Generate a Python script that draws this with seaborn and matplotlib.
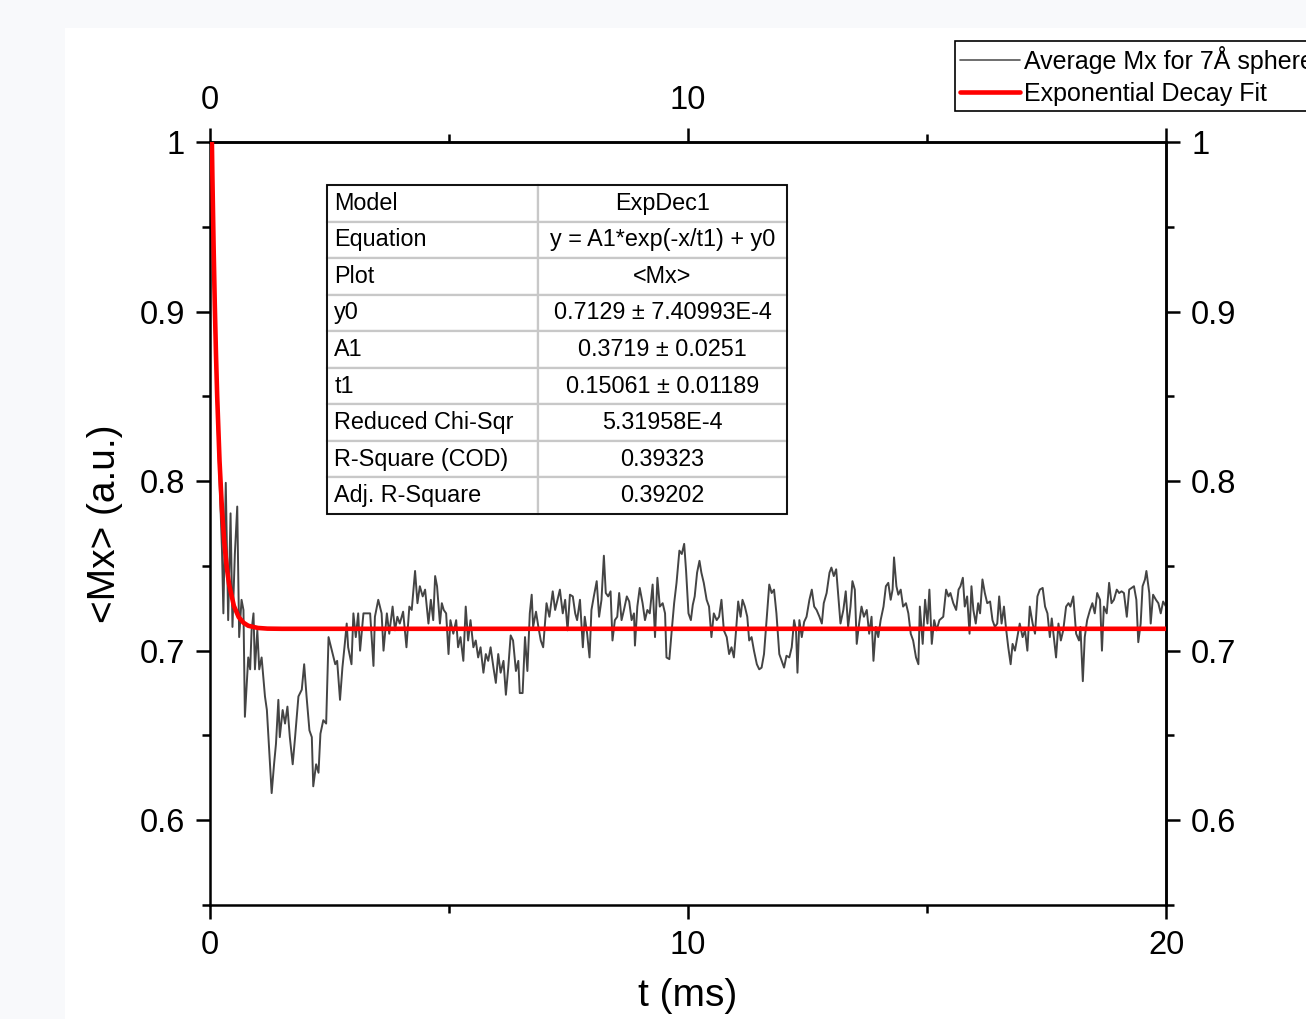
import matplotlib
matplotlib.use("Agg")
import matplotlib.pyplot as plt
import pandas as pd
import seaborn as sns
from matplotlib.lines import Line2D
from matplotlib.patches import Rectangle
from matplotlib.table import Table
from matplotlib.ticker import MultipleLocator, FuncFormatter

# ---------------- data ----------------
t_start = [0.00, 0.05, 0.10, 0.15, 0.20, 0.25]
mx_start = [1.000, 0.950, 0.890, 0.840, 0.800, 0.760]

t_dip = [0.28, 0.33, 0.38, 0.43, 0.47, 0.52, 0.57, 0.61, 0.66, 0.70,
         0.73, 0.80, 0.84, 0.87, 0.91, 0.94, 0.99, 1.03, 1.08, 1.15,
         1.19, 1.26, 1.29, 1.34, 1.38, 1.43, 1.46, 1.52, 1.57, 1.62,
         1.67, 1.73, 1.78, 1.85, 1.92, 1.97, 2.02, 2.08, 2.13, 2.16,
         2.22, 2.27, 2.31, 2.37, 2.43, 2.48, 2.55, 2.62, 2.66, 2.72,
         2.77, 2.82, 2.86, 2.89, 2.96, 3.00, 3.05, 3.10, 3.14, 3.21,
         3.28, 3.35]
mx_dip = [0.722, 0.799, 0.718, 0.781, 0.714, 0.757, 0.785, 0.708, 0.730, 0.724,
          0.661, 0.696, 0.689, 0.712, 0.722, 0.689, 0.712, 0.689, 0.696, 0.673,
          0.665, 0.630, 0.616, 0.633, 0.645, 0.671, 0.649, 0.665, 0.657, 0.667,
          0.649, 0.633, 0.649, 0.673, 0.677, 0.692, 0.673, 0.653, 0.649, 0.620,
          0.633, 0.628, 0.651, 0.659, 0.657, 0.708, 0.700, 0.692, 0.694, 0.671,
          0.690, 0.704, 0.716, 0.702, 0.692, 0.722, 0.708, 0.722, 0.700, 0.722,
          0.722, 0.722]

t_mid1 = [3.42, 3.45, 3.52, 3.59, 3.63, 3.70, 3.75, 3.82, 3.87, 3.92,
          3.97, 4.04, 4.11, 4.17, 4.22, 4.29, 4.34, 4.39, 4.45, 4.50,
          4.57, 4.62, 4.67, 4.71, 4.75, 4.81, 4.85, 4.89, 4.94, 4.99,
          5.03, 5.09, 5.15, 5.19, 5.24, 5.30, 5.35, 5.40, 5.45, 5.51,
          5.56, 5.61, 5.66, 5.72, 5.77, 5.82, 5.87, 5.93, 5.98, 6.03,
          6.08, 6.14, 6.19, 6.24, 6.29, 6.34, 6.40, 6.45, 6.48, 6.54,
          6.59, 6.64, 6.69, 6.73, 6.76, 6.82, 6.87, 6.92, 6.97]
mx_mid1 = [0.691, 0.720, 0.730, 0.722, 0.700, 0.722, 0.710, 0.726, 0.712, 0.720,
           0.716, 0.723, 0.702, 0.726, 0.724, 0.747, 0.728, 0.738, 0.732, 0.736,
           0.716, 0.730, 0.718, 0.744, 0.738, 0.716, 0.728, 0.724, 0.722, 0.698,
           0.718, 0.710, 0.718, 0.702, 0.708, 0.694, 0.726, 0.706, 0.718, 0.702,
           0.706, 0.696, 0.702, 0.687, 0.698, 0.694, 0.702, 0.690, 0.681, 0.698,
           0.687, 0.694, 0.674, 0.690, 0.709, 0.706, 0.688, 0.694, 0.675, 0.675,
           0.708, 0.688, 0.722, 0.733, 0.714, 0.723, 0.714, 0.706, 0.702]

t_mid2 = [7.04, 7.10, 7.17, 7.22, 7.27, 7.32, 7.38, 7.43, 7.48, 7.53,
          7.59, 7.64, 7.68, 7.74, 7.80, 7.84, 7.89, 7.94, 7.98, 8.03,
          8.09, 8.14, 8.19, 8.24, 8.28, 8.33, 8.38, 8.42, 8.47, 8.52,
          8.56, 8.61, 8.66, 8.72, 8.77, 8.82, 8.87, 8.89, 8.94, 8.99,
          9.05, 9.10, 9.15, 9.20, 9.26, 9.31, 9.36, 9.41, 9.47, 9.52,
          9.55, 9.61, 9.66, 9.71, 9.76, 9.82, 9.87, 9.92, 9.96, 10.01,
          10.06, 10.10, 10.14, 10.19, 10.24, 10.28, 10.33, 10.39, 10.44, 10.49,
          10.54, 10.60, 10.65, 10.70, 10.75, 10.81, 10.86, 10.91, 10.96]
mx_mid2 = [0.728, 0.720, 0.735, 0.724, 0.730, 0.736, 0.722, 0.730, 0.712, 0.733,
           0.732, 0.722, 0.718, 0.730, 0.702, 0.720, 0.710, 0.696, 0.724, 0.732,
           0.741, 0.720, 0.730, 0.756, 0.734, 0.732, 0.735, 0.706, 0.718, 0.720,
           0.734, 0.718, 0.724, 0.732, 0.729, 0.718, 0.722, 0.703, 0.726, 0.737,
           0.728, 0.718, 0.724, 0.722, 0.739, 0.708, 0.743, 0.726, 0.728, 0.722,
           0.696, 0.695, 0.712, 0.728, 0.740, 0.759, 0.757, 0.763, 0.747, 0.722,
           0.718, 0.727, 0.732, 0.746, 0.753, 0.746, 0.740, 0.730, 0.726, 0.708,
           0.722, 0.718, 0.720, 0.730, 0.712, 0.708, 0.698, 0.702, 0.696]

t_mid3 = [11.00, 11.05, 11.10, 11.14, 11.19, 11.24, 11.28, 11.33, 11.38, 11.44,
          11.49, 11.54, 11.59, 11.65, 11.70, 11.75, 11.80, 11.85, 11.91, 11.96,
          12.01, 12.06, 12.12, 12.17, 12.22, 12.26, 12.29, 12.33, 12.38, 12.43,
          12.48, 12.54, 12.59, 12.64, 12.69, 12.75, 12.80, 12.84, 12.90, 12.96,
          13.00, 13.05, 13.10, 13.14, 13.19, 13.25, 13.30, 13.35, 13.40, 13.44,
          13.49, 13.53, 13.58, 13.63, 13.68, 13.74, 13.79, 13.84, 13.88, 13.93,
          13.98, 14.03, 14.09, 14.14, 14.19, 14.24, 14.28, 14.31, 14.36, 14.40,
          14.45, 14.50, 14.56, 14.61, 14.66, 14.71, 14.77, 14.82, 14.85, 14.91,
          14.96, 15.01, 15.05, 15.10, 15.15, 15.20, 15.26]
mx_mid3 = [0.710, 0.729, 0.720, 0.730, 0.726, 0.720, 0.706, 0.708, 0.700, 0.692,
           0.689, 0.690, 0.698, 0.720, 0.739, 0.734, 0.736, 0.722, 0.698, 0.694,
           0.690, 0.697, 0.696, 0.702, 0.718, 0.712, 0.687, 0.718, 0.708, 0.717,
           0.720, 0.730, 0.736, 0.726, 0.724, 0.720, 0.716, 0.728, 0.734, 0.746,
           0.749, 0.744, 0.748, 0.734, 0.716, 0.724, 0.735, 0.714, 0.726, 0.741,
           0.736, 0.704, 0.716, 0.726, 0.720, 0.724, 0.710, 0.720, 0.694, 0.714,
           0.708, 0.718, 0.726, 0.738, 0.740, 0.730, 0.736, 0.755, 0.738, 0.733,
           0.736, 0.726, 0.728, 0.722, 0.710, 0.706, 0.696, 0.692, 0.726, 0.704,
           0.730, 0.716, 0.736, 0.704, 0.718, 0.712, 0.718]

t_end = [15.34, 15.40, 15.45, 15.49, 15.55, 15.61, 15.66, 15.70, 15.75, 15.79,
         15.84, 15.89, 15.93, 15.97, 16.02, 16.07, 16.11, 16.16, 16.21, 16.26,
         16.32, 16.37, 16.42, 16.47, 16.51, 16.56, 16.61, 16.65, 16.70, 16.75,
         16.79, 16.84, 16.89, 16.94, 17.00, 17.05, 17.10, 17.15, 17.21, 17.26,
         17.31, 17.36, 17.42, 17.47, 17.52, 17.57, 17.61, 17.66, 17.70, 17.75,
         17.80, 17.85, 17.91, 17.96, 18.00, 18.06, 18.12, 18.18, 18.21, 18.26,
         18.30, 18.35, 18.41, 18.46, 18.51, 18.56, 18.62, 18.66, 18.70, 18.76,
         18.81, 18.86, 18.91, 18.97, 19.02, 19.07, 19.12, 19.18, 19.23, 19.28,
         19.33, 19.38, 19.42, 19.47, 19.51, 19.56, 19.59, 19.65, 19.68, 19.73,
         19.79, 19.84, 19.89, 19.94, 20.00]
mx_end = [0.720, 0.736, 0.732, 0.734, 0.728, 0.724, 0.736, 0.738, 0.743, 0.726,
          0.732, 0.710, 0.738, 0.724, 0.716, 0.728, 0.722, 0.742, 0.734, 0.728,
          0.729, 0.718, 0.714, 0.716, 0.732, 0.716, 0.726, 0.714, 0.702, 0.692,
          0.704, 0.700, 0.708, 0.716, 0.708, 0.712, 0.700, 0.726, 0.716, 0.710,
          0.732, 0.736, 0.737, 0.726, 0.722, 0.708, 0.719, 0.706, 0.696, 0.716,
          0.706, 0.712, 0.726, 0.728, 0.726, 0.732, 0.710, 0.706, 0.714, 0.682,
          0.708, 0.718, 0.724, 0.728, 0.722, 0.734, 0.730, 0.700, 0.726, 0.722,
          0.740, 0.728, 0.730, 0.736, 0.734, 0.735, 0.734, 0.720, 0.736, 0.737,
          0.738, 0.730, 0.705, 0.716, 0.738, 0.742, 0.747, 0.734, 0.716, 0.733,
          0.730, 0.728, 0.722, 0.729, 0.726]

# Exponential decay fit (values of the fitted curve)
t_fit = [0.0, 0.025, 0.05, 0.075, 0.10, 0.125, 0.15, 0.20, 0.25, 0.30,
         0.35, 0.40, 0.50, 0.60, 0.70, 0.80, 1.00, 1.20, 1.50, 20.0]
mx_fit = [1.0848, 1.0280, 0.9797, 0.9389, 0.9044, 0.8750, 0.8503, 0.8115, 0.7836, 0.7636,
          0.7493, 0.7390, 0.7264, 0.7198, 0.7165, 0.7147, 0.7134, 0.7130, 0.7129, 0.7129]

table_rows = ["Model", "Equation", "Plot", "y0", "A1", "t1",
              "Reduced Chi-Sqr", "R-Square (COD)", "Adj. R-Square"]
table_vals = ["ExpDec1", "y = A1*exp(-x/t1) + y0", "<Mx>",
              "0.7129 \u00b1 7.40993E-4", "0.3719 \u00b1 0.0251",
              "0.15061 \u00b1 0.01189", "5.31958E-4", "0.39323", "0.39202"]

legend_labels = ["Average Mx for 7\u00c5 sphere", "Exponential Decay Fit"]

# ---------------- styling ----------------
sns.set_theme(style="ticks")
plt.rcParams["font.family"] = ["Liberation Sans", "DejaVu Sans"]
plt.rcParams["axes.edgecolor"] = "black"
plt.rcParams["axes.labelcolor"] = "black"
plt.rcParams["xtick.color"] = "black"
plt.rcParams["ytick.color"] = "black"
plt.rcParams["text.color"] = "black"
plt.rcParams["axes.linewidth"] = 1.8

W, H = 1306, 1019
fig = plt.figure(figsize=(W / 100, H / 100), dpi=100, facecolor="#f8f9fb")
fig.patches.append(Rectangle((65 / W, 0), 1, 1 - 28 / H, transform=fig.transFigure,
                             facecolor="white", edgecolor="none", zorder=-5))

ax = fig.add_axes([210 / W, 1 - 905 / H, (1166 - 210) / W, (905 - 142) / H])
ax.set_facecolor("white")

t_avg = t_start + t_dip + t_mid1 + t_mid2 + t_mid3 + t_end
mx_avg = mx_start + mx_dip + mx_mid1 + mx_mid2 + mx_mid3 + mx_end
df_avg = pd.DataFrame({"t": t_avg, "Mx": mx_avg})
df_fit = pd.DataFrame({"t": t_fit, "Mx": mx_fit})

sns.lineplot(data=df_avg, x="t", y="Mx", ax=ax, color="#444444", lw=1.4,
             sort=False, estimator=None, zorder=2)
sns.lineplot(data=df_fit, x="t", y="Mx", ax=ax, color="#ff0000", lw=3.3,
             sort=False, estimator=None, zorder=3)

ax.set_xlim(0, 20)
ax.set_ylim(0.55, 1.0)
fmt = FuncFormatter(lambda v, p: "%g" % round(v, 6))
# the top "20" label sits behind the legend box in the reference
fmt_top = FuncFormatter(lambda v, p: "" if v > 15 else "%g" % round(v, 6))


def style_axis(axis_obj, major, minor, formatter):
    axis_obj.set_major_locator(MultipleLocator(major))
    axis_obj.set_minor_locator(MultipleLocator(minor))
    axis_obj.set_major_formatter(formatter)


TICK_FS = 23.5
style_axis(ax.xaxis, 10, 5, fmt)
style_axis(ax.yaxis, 0.1, 0.05, fmt)
ax.tick_params(which="major", direction="out", length=10, width=1.8, labelsize=TICK_FS)
ax.tick_params(axis="x", which="major", pad=8)
ax.tick_params(axis="y", which="major", pad=8)
ax.tick_params(which="minor", direction="out", length=5.5, width=1.8)

secx = ax.secondary_xaxis("top")
style_axis(secx.xaxis, 10, 5, fmt_top)
secx.tick_params(which="major", direction="out", length=10, width=1.8, labelsize=TICK_FS, pad=8.5)
secx.tick_params(which="minor", direction="out", length=5.5, width=1.8)
secx.spines["top"].set_linewidth(1.8)

secy = ax.secondary_yaxis("right")
style_axis(secy.yaxis, 0.1, 0.05, fmt)
secy.tick_params(which="major", direction="out", length=10, width=1.8, labelsize=TICK_FS, pad=8)
secy.tick_params(which="minor", direction="out", length=5.5, width=1.8)
secy.spines["right"].set_linewidth(1.8)

for s in ax.spines.values():
    s.set_linewidth(1.8)
    s.set_color("black")

ax.set_xlabel("t (ms)", fontsize=28, labelpad=12)
ax.set_ylabel("<Mx> (a.u.)", fontsize=28, labelpad=12)

# ---------------- fit table ----------------
tx0 = (327 - 210) / 956
tx1 = (787 - 210) / 956
ty0 = (905 - 514) / 763
ty1 = (905 - 185) / 763
tb = Table(ax, bbox=[tx0, ty0, tx1 - tx0, ty1 - ty0])
n = len(table_rows)
for i in range(n):
    c0 = tb.add_cell(i, 0, width=0.4587, height=1 / n, text=table_rows[i], loc="left",
                     facecolor="white", edgecolor="#c8c8c8")
    c0.PAD = 0.035
    c1 = tb.add_cell(i, 1, width=0.5413, height=1 / n, text=table_vals[i], loc="center",
                     facecolor="white", edgecolor="#c8c8c8")
    for c in (c0, c1):
        c.set_linewidth(1.6)
tb.auto_set_font_size(False)
tb.set_fontsize(16.8)
tb.set_zorder(5)
ax.add_table(tb)
ax.add_patch(Rectangle((tx0, ty0), tx1 - tx0, ty1 - ty0, transform=ax.transAxes,
                       fill=False, edgecolor="black", lw=1.3, zorder=6, clip_on=False))

# ---------------- legend ----------------
handles = [Line2D([], [], color="#555555", lw=1.2),
           Line2D([], [], color="#ff0000", lw=3.3)]
leg = fig.legend(handles, legend_labels, loc="upper left",
                 bbox_to_anchor=(955 / W, 1 - 41 / H), bbox_transform=fig.transFigure,
                 frameon=True, fancybox=False, framealpha=1, edgecolor="black",
                 fontsize=18, handlelength=2.4, handletextpad=0.15,
                 labelspacing=0.3, borderpad=0.2, borderaxespad=0)
leg.get_frame().set_linewidth(1.2)
leg.get_frame().set_facecolor("white")

fig.savefig("out.png", dpi=100, facecolor=fig.get_facecolor())
